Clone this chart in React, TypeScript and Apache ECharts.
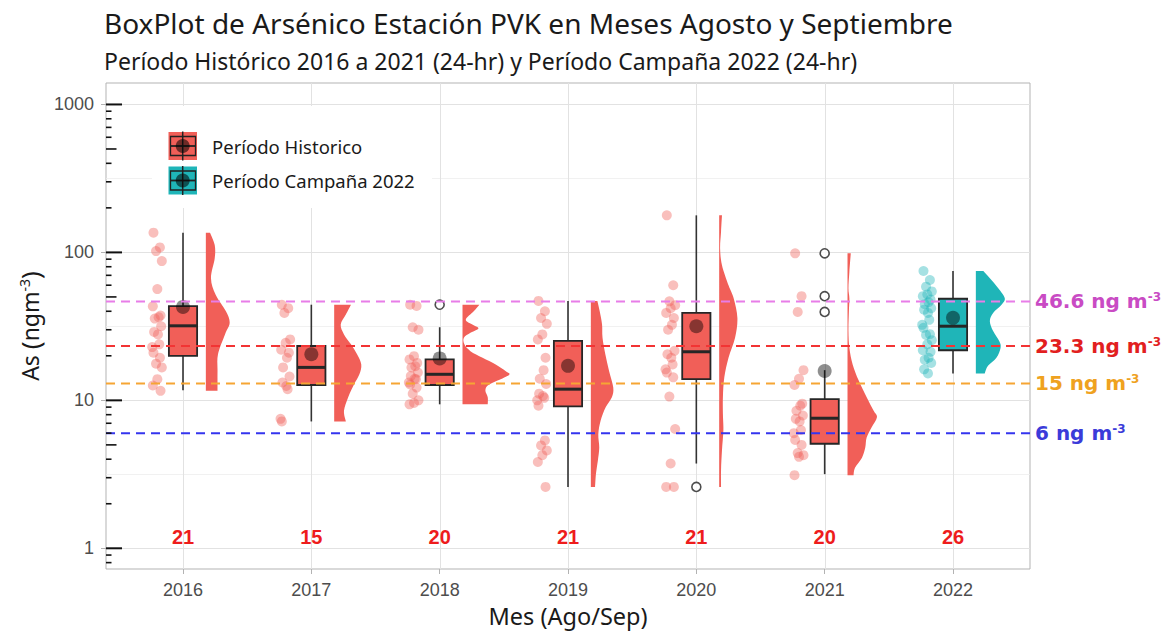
import React, { useEffect, useRef } from "react";
import * as echarts from "echarts";

// ---------- categories ----------
const years = ["2016", "2017", "2018", "2019", "2020", "2021", "2022"];
const sampleSizes = [21, 15, 20, 21, 21, 20, 26];
const periodOfYear = [0, 0, 0, 0, 0, 0, 1]; // 0 = histórico, 1 = campaña
const legendNames = ["Período Historico", "Período Campaña 2022"];

// ---------- observations (ng/m3) ----------
const values2016 = [136, 108, 102, 87.4, 56.5, 43.2, 37.4, 36.5, 35.7, 31.7, 29.0, 27.9, 23.9, 22.9, 21.0, 19.4, 17.7, 16.7, 13.9, 12.6, 11.6];
const values2017 = [44.3, 42.0, 39.0, 25.8, 24.5, 22.0, 21.0, 19.4, 16.7, 14.5, 13.2, 12.5, 11.9, 7.5, 7.2];
const values2018 = [44.3, 43.5, 31.2, 30.0, 19.9, 18.9, 17.9, 17.0, 16.7, 15.4, 14.6, 14.0, 13.9, 13.2, 12.8, 12.2, 11.1, 10.0, 9.6, 9.4];
const values2019 = [47.0, 40.0, 36.0, 32.9, 27.9, 25.8, 19.4, 16.0, 14.0, 12.9, 11.1, 10.7, 10.4, 10.0, 9.2, 5.36, 4.96, 4.59, 4.26, 3.83, 2.6];
const values2020 = [178, 60.0, 46.7, 44.0, 42.0, 39.0, 36.0, 32.4, 30.0, 21.6, 20.5, 19.4, 17.5, 16.2, 15.4, 14.3, 10.6, 6.4, 3.74, 2.6, 2.6];
const values2021 = [98.6, 50.6, 39.6, 16.0, 14.0, 12.7, 9.5, 9.2, 8.5, 7.9, 7.5, 7.2, 6.3, 6.0, 5.4, 5.0, 4.4, 4.26, 4.15, 3.12];
const values2022 = [74.9, 65.1, 58.7, 54.5, 52.0, 50.6, 48.0, 46.0, 44.7, 42.0, 41.0, 39.0, 35.0, 32.4, 30.9, 28.0, 27.7, 25.5, 23.9, 21.8, 21.3, 19.4, 18.8, 17.9, 16.2, 15.2];
const yearValues = [values2016, values2017, values2018, values2019, values2020, values2021, values2022];

// ---------- box statistics ----------
const whiskerLow = [11.7, 7.2, 9.4, 2.6, 3.74, 3.17, 15.2];
const quartile1 = [20.0, 12.7, 12.7, 9.1, 13.9, 5.09, 21.8];
const medians = [31.9, 16.7, 15.0, 11.9, 21.3, 7.57, 31.7];
const quartile3 = [43.4, 23.3, 18.9, 25.2, 39.0, 10.2, 48.6];
const whiskerHigh = [136, 44.3, 31.2, 47.0, 178, 16.0, 74.9];
const means = [42.8, 20.5, 19.2, 17.1, 31.7, 15.8, 36.1];
const outlierYearIndex = [2, 4, 5, 5, 5];
const outlierValues = [44.3, 2.6, 98.6, 50.6, 39.6];

// ---------- half-violin profiles (level in ng/m3, relative density) ----------
const violinLevels2016 = [136, 112, 91.2, 66.9, 51.7, 40.0, 33.4, 27.9, 20.5, 15.8, 11.6];
const violinDensity2016 = [0.09, 0.19, 0.19, 0.11, 0.21, 0.43, 0.51, 0.41, 0.26, 0.25, 0.25];
const violinLevels2017 = [44.3, 38.0, 32.5, 27.9, 23.9, 20.5, 17.5, 15.0, 12.9, 10.5, 8.5, 7.2];
const violinDensity2017 = [0.36, 0.25, 0.14, 0.21, 0.36, 0.49, 0.58, 0.54, 0.43, 0.30, 0.21, 0.25];
const violinLevels2018 = [44.3, 40.0, 35.1, 32.5, 30.6, 28.6, 26.5, 23.9, 21.5, 19.4, 17.5, 15.8, 14.9, 13.6, 12.6, 11.6, 10.5, 9.4];
const violinDensity2018 = [0.36, 0.24, 0.07, 0.21, 0.34, 0.17, 0.03, 0.04, 0.17, 0.43, 0.71, 0.92, 1.0, 0.75, 0.54, 0.49, 0.54, 0.54];
const violinLevels2019 = [47.0, 40.0, 32.5, 26.5, 20.5, 15.8, 12.2, 10.5, 9.0, 7.3, 5.9, 4.8, 3.9, 3.2, 2.6];
const violinDensity2019 = [0.14, 0.19, 0.24, 0.25, 0.31, 0.39, 0.48, 0.45, 0.32, 0.21, 0.16, 0.18, 0.15, 0.11, 0.09];
const violinLevels2020 = [178, 138, 106, 82, 60, 49, 36, 26.5, 19.4, 14.3, 10.5, 8.1, 6.3, 4.6, 3.4, 2.6];
const violinDensity2020 = [0.06, 0.04, 0.02, 0.06, 0.2, 0.31, 0.39, 0.34, 0.2, 0.11, 0.08, 0.08, 0.09, 0.06, 0.04, 0.04];
const violinLevels2021 = [98.6, 74, 57.3, 49, 40, 29.4, 22.7, 17.5, 13.6, 10.5, 8.5, 7.7, 6.6, 5.6, 4.8, 4.1, 3.5, 3.12];
const violinDensity2021 = [0.07, 0.04, 0.02, 0.04, 0.03, 0.02, 0.04, 0.11, 0.24, 0.41, 0.56, 0.63, 0.52, 0.41, 0.38, 0.31, 0.16, 0.13];
const violinLevels2022 = [74.9, 66.9, 57.3, 49, 44.3, 39, 34.3, 29.4, 25.2, 22.7, 19.4, 17.1, 15.2];
const violinDensity2022 = [0.16, 0.3, 0.48, 0.62, 0.55, 0.37, 0.3, 0.37, 0.5, 0.53, 0.44, 0.26, 0.19];
const violinLevels = [violinLevels2016, violinLevels2017, violinLevels2018, violinLevels2019, violinLevels2020, violinLevels2021, violinLevels2022];
const violinDensities = [violinDensity2016, violinDensity2017, violinDensity2018, violinDensity2019, violinDensity2020, violinDensity2021, violinDensity2022];

// ---------- reference lines ----------
const refLineValues = [46.6, 23.3, 13, 6];
const refLineLabels = ["46.6", "23.3", "15", "6"];
const countLabelLevel = 1.2;

// ---------- axis ticks ----------
const yTickValues = [1, 10, 100, 1000];
const yTickLabels = ["1", "10", "100", "1000"];
const minorGridValues = [3.162, 31.62, 316.2];
const logTickValues = [0.8, 0.9, 1, 2, 3, 4, 5, 6, 7, 8, 9, 10, 20, 30, 40, 50, 60, 70, 80, 90, 100, 200, 300, 400, 500, 600, 700, 800, 900, 1000];

// ---------- styling ----------
const FONT_TEXT = "'Noto Sans', 'DejaVu Sans', sans-serif";
const FONT_TICK = "'Liberation Sans', Arial, sans-serif";
const FONT_WIDE = "'DejaVu Sans', sans-serif";
const fillColors = ["#F15F58", "#1FB5B8"];
const refLineColors = ["#E87DE8", "#F23434", "#F6A534", "#3535EE"];
const refLabelColors = ["#C94BC4", "#E21F1F", "#EFA21F", "#3B3BD9"];
const countColor = "#EE1C1C";
const jitterPattern = [-0.03, 0.02, -0.01, 0.035, 0.0, -0.035, 0.025, 0.01, -0.02, 0.03, -0.025, 0.005, 0.015, -0.04];
const pointOffset = -0.2;
const boxWidth = 0.22;
const violinOffset = 0.178;
const violinScale = 0.364;

const lg = (v: number) => Math.log10(v);

function catmullPath(pts: number[][], start: number[], end: number[]): string {
  let d = `M${start[0]},${start[1]} L${pts[0][0]},${pts[0][1]}`;
  for (let i = 0; i < pts.length - 1; i++) {
    const p0 = pts[i - 1] || pts[i];
    const p1 = pts[i];
    const p2 = pts[i + 1];
    const p3 = pts[i + 2] || p2;
    const c1x = p1[0] + (p2[0] - p0[0]) / 6;
    const c1y = p1[1] + (p2[1] - p0[1]) / 6;
    const c2x = p2[0] - (p3[0] - p1[0]) / 6;
    const c2y = p2[1] - (p3[1] - p1[1]) / 6;
    d += ` C${c1x},${c1y} ${c2x},${c2y} ${p2[0]},${p2[1]}`;
  }
  d += ` L${end[0]},${end[1]} Z`;
  return d;
}

function buildOption(): any {
  const pointsHist: number[][] = [];
  const pointsCamp: number[][] = [];
  yearValues.forEach((vals, i) => {
    vals.forEach((v, k) => {
      const p = [i + 1 + pointOffset + jitterPattern[k % jitterPattern.length], lg(v)];
      (periodOfYear[i] ? pointsCamp : pointsHist).push(p);
    });
  });

  const gridData: number[][] = [
    ...yTickValues.map((v) => [0, lg(v)]),
    ...minorGridValues.map((v) => [1, lg(v)]),
    ...years.map((_, i) => [2, i + 1]),
  ];

  const boxData = years.map((_, i) => [
    i + 1, lg(whiskerLow[i]), lg(quartile1[i]), lg(medians[i]), lg(quartile3[i]), lg(whiskerHigh[i]), periodOfYear[i],
  ]);

  return {
    animation: false,
    backgroundColor: "#ffffff",
    title: {
      text: "BoxPlot de Arsénico Estación PVK en Meses Agosto y Septiembre",
      subtext: "Período Histórico 2016 a 2021 (24-hr) y Período Campaña 2022 (24-hr)",
      left: 104,
      top: 9,
      padding: 0,
      itemGap: 12,
      textStyle: { fontFamily: FONT_TEXT, fontSize: 28, lineHeight: 28, fontWeight: "normal", color: "#1a1a1a" },
      subtextStyle: { fontFamily: FONT_TEXT, fontSize: 23, lineHeight: 23, color: "#1a1a1a" },
    },
    grid: { left: 106, right: 141, top: 83, bottom: 59.5, show: true, borderColor: "#b3b3b3", borderWidth: 1, backgroundColor: "transparent" },
    xAxis: {
      type: "value",
      min: 0.4,
      max: 7.6,
      axisLine: { show: false, onZero: false },
      axisTick: { show: true, customValues: years.map((_, i) => i + 1), length: 5, lineStyle: { color: "#b3b3b3" } },
      axisLabel: {
        customValues: years.map((_, i) => i + 1),
        formatter: (v: number) => years[Math.round(v) - 1] || "",
        margin: 12,
        fontSize: 18,
        fontFamily: FONT_TICK,
        color: "#4d4d4d",
      },
      splitLine: { show: false },
      name: "Mes (Ago/Sep)",
      nameLocation: "middle",
      nameGap: 35,
      nameTextStyle: { fontFamily: FONT_TEXT, fontSize: 23.5, color: "#1a1a1a" },
    },
    yAxis: {
      type: "value",
      min: -0.14,
      max: 3.145,
      axisLine: { show: false, onZero: false },
      axisTick: { show: true, customValues: yTickValues.map(lg), length: 5, lineStyle: { color: "#b3b3b3" } },
      axisLabel: {
        customValues: yTickValues.map(lg),
        formatter: (v: number) => yTickLabels[Math.round(v)] || "",
        margin: 12,
        fontSize: 18,
        fontFamily: FONT_TICK,
        color: "#4d4d4d",
      },
      splitLine: { show: false },
      name: "{a|As }{p|(}{a|ngm}{s|-3}{p|)}",
      nameLocation: "middle",
      nameGap: 62,
      nameRotate: 90,
      nameTextStyle: {
        rich: {
          a: { fontFamily: FONT_TEXT, fontSize: 23, color: "#1a1a1a" },
          p: { fontFamily: FONT_TEXT, fontSize: 26, color: "#1a1a1a" },
          s: { fontFamily: FONT_TEXT, fontSize: 14, color: "#1a1a1a", verticalAlign: "top" },
        },
      },
    },
    series: [
      {
        type: "custom",
        name: "grid",
        z: 1,
        silent: true,
        data: gridData,
        renderItem: (params: any, api: any) => {
          const cs = params.coordSys;
          const kind = api.value(0);
          const val = api.value(1);
          if (kind === 2) {
            const x = Math.round(api.coord([val, 1])[0]) + 0.5;
            return { type: "line", shape: { x1: x, y1: cs.y, x2: x, y2: cs.y + cs.height }, style: { stroke: "#e2e2e2", lineWidth: 1 } };
          }
          const y = Math.round(api.coord([1, val])[1]) + 0.5;
          return {
            type: "line",
            shape: { x1: cs.x, y1: y, x2: cs.x + cs.width, y2: y },
            style: { stroke: kind === 0 ? "#e2e2e2" : "#eeeeee", lineWidth: kind === 0 ? 1 : 0.8 },
          };
        },
      },
      {
        type: "custom",
        name: "violin",
        z: 2,
        silent: true,
        data: years.map((_, i) => [i + 1, lg(violinLevels[i][0]), periodOfYear[i]]),
        renderItem: (params: any, api: any) => {
          const i = params.dataIndex;
          const x0 = api.value(0) + violinOffset;
          const levels = violinLevels[i];
          const dens = violinDensities[i];
          const right = levels.map((lv, k) => api.coord([x0 + dens[k] * violinScale, lg(lv)]));
          const top = api.coord([x0, lg(levels[0])]);
          const bottom = api.coord([x0, lg(levels[levels.length - 1])]);
          return {
            type: "path",
            shape: { pathData: catmullPath(right, top, bottom) },
            style: { fill: fillColors[api.value(2)] },
          };
        },
      },
      {
        type: "scatter",
        name: legendNames[0],
        z: 3,
        silent: true,
        symbolSize: 10,
        itemStyle: { color: fillColors[0], opacity: 0.4 },
        data: pointsHist,
      },
      {
        type: "scatter",
        name: legendNames[1],
        z: 3,
        silent: true,
        symbolSize: 10,
        itemStyle: { color: fillColors[1], opacity: 0.4 },
        data: pointsCamp,
      },
      {
        type: "custom",
        name: "box",
        z: 4,
        silent: true,
        data: boxData,
        renderItem: (params: any, api: any) => {
          const x = api.value(0);
          const low = api.coord([x, api.value(1)]);
          const cx = low[0];
          const yLow = low[1];
          const yQ1 = api.coord([x, api.value(2)])[1];
          const yMed = api.coord([x, api.value(3)])[1];
          const yQ3 = api.coord([x, api.value(4)])[1];
          const yHigh = api.coord([x, api.value(5)])[1];
          const half = api.size([boxWidth, 0])[0] / 2;
          const fill = fillColors[api.value(6)];
          return {
            type: "group",
            children: [
              { type: "line", shape: { x1: cx, y1: yHigh, x2: cx, y2: yQ3 }, style: { stroke: "#333333", lineWidth: 1.6 } },
              { type: "line", shape: { x1: cx, y1: yQ1, x2: cx, y2: yLow }, style: { stroke: "#333333", lineWidth: 1.6 } },
              { type: "rect", shape: { x: cx - half, y: yQ3, width: half * 2, height: yQ1 - yQ3 }, style: { fill, stroke: "#262626", lineWidth: 1.8 } },
              { type: "line", shape: { x1: cx - half, y1: yMed, x2: cx + half, y2: yMed }, style: { stroke: "#262626", lineWidth: 3 } },
            ],
          };
        },
      },
      {
        type: "scatter",
        name: "outliers",
        z: 5,
        silent: true,
        symbolSize: 9,
        itemStyle: { color: "#ffffff", borderColor: "#222222", borderWidth: 1.6 },
        data: outlierValues.map((v, k) => [outlierYearIndex[k] + 1, lg(v)]),
      },
      {
        type: "scatter",
        name: "means",
        z: 6,
        silent: true,
        symbolSize: 14,
        itemStyle: { color: "rgba(0,0,0,0.55)" },
        data: means.map((v, i) => [i + 1, lg(v)]),
      },
      {
        type: "custom",
        name: "reference",
        z: 7,
        silent: true,
        data: refLineValues.map((v, i) => [i, lg(v)]),
        renderItem: (params: any, api: any) => {
          const i = params.dataIndex;
          const cs = params.coordSys;
          const y = api.coord([1, api.value(1)])[1];
          const col = refLabelColors[i];
          return {
            type: "group",
            children: [
              {
                type: "line",
                shape: { x1: cs.x, y1: y, x2: cs.x + cs.width, y2: y },
                style: { stroke: refLineColors[i], lineWidth: 2, lineDash: [9, 6] },
              },
              {
                type: "text",
                x: cs.x + cs.width + 5,
                y: y,
                style: {
                  text: `{v|${refLineLabels[i]} ng m}{s|-3}`,
                  align: "left",
                  verticalAlign: "middle",
                  rich: {
                    v: { fontFamily: FONT_WIDE, fontSize: 20, fontWeight: "bold", fill: col },
                    s: { fontFamily: FONT_WIDE, fontSize: 12, fontWeight: "bold", fill: col, verticalAlign: "top" },
                  },
                },
              },
            ],
          };
        },
      },
      {
        type: "custom",
        name: "counts",
        z: 7,
        silent: true,
        data: sampleSizes.map((n, i) => [i + 1, lg(countLabelLevel), n]),
        renderItem: (params: any, api: any) => {
          const p = api.coord([api.value(0), api.value(1)]);
          return {
            type: "text",
            x: p[0],
            y: p[1],
            style: {
              text: String(api.value(2)),
              align: "center",
              verticalAlign: "middle",
              fontFamily: FONT_TICK,
              fontSize: 20,
              fontWeight: "bold",
              fill: countColor,
            },
          };
        },
      },
      {
        type: "custom",
        name: "logticks",
        z: 8,
        silent: true,
        data: logTickValues.map((v) => [0.4, lg(v), v]),
        renderItem: (params: any, api: any) => {
          const cs = params.coordSys;
          const v = api.value(2);
          const mant = v / Math.pow(10, Math.floor(Math.log10(v) + 1e-9));
          const isMajor = Math.abs(mant - 1) < 1e-6;
          const isMid = Math.abs(mant - 5) < 1e-6;
          const len = isMajor ? 16 : isMid ? 10.5 : 5.5;
          const y = api.coord([1, api.value(1)])[1];
          return {
            type: "line",
            shape: { x1: cs.x, y1: y, x2: cs.x + len, y2: y },
            style: { stroke: "#111111", lineWidth: isMajor ? 2 : 1.6 },
          };
        },
      },
    ],
    graphic: [
      { type: "rect", z: 50, shape: { x: 152, y: 106, width: 280, height: 102 }, style: { fill: "#ffffff" } },
      ...[0, 1].flatMap((g) => {
        const cy = 146 + g * 34.5;
        return [
          { type: "rect", z: 51, shape: { x: 168.5, y: cy - 14, width: 28.5, height: 28 }, style: { fill: fillColors[g] } },
          { type: "rect", z: 52, shape: { x: 170.5, y: cy - 9.5, width: 25, height: 19 }, style: { fill: "none", stroke: "#222222", lineWidth: 1.3 } },
          { type: "line", z: 52, shape: { x1: 170.5, y1: cy, x2: 195.5, y2: cy }, style: { stroke: "#222222", lineWidth: 1.8 } },
          { type: "line", z: 52, shape: { x1: 182.7, y1: cy - 14.5, x2: 182.7, y2: cy + 14.5 }, style: { stroke: "#222222", lineWidth: 1.5 } },
          { type: "circle", z: 53, shape: { cx: 182.7, cy, r: 7 }, style: { fill: "rgba(0,0,0,0.55)" } },
          {
            type: "text",
            z: 53,
            x: 212,
            y: cy,
            style: { text: legendNames[g], fontFamily: FONT_TEXT, fontSize: 18.5, fill: "#1a1a1a", align: "left", verticalAlign: "middle" },
          },
        ];
      }),
    ],
  };
}

export default function App() {
  const ref = useRef<HTMLDivElement>(null);
  useEffect(() => {
    document.body.style.margin = "0";
    const chart = echarts.init(ref.current as HTMLDivElement, null, { renderer: "svg" });
    chart.setOption(buildOption());
    return () => chart.dispose();
  }, []);
  return <div ref={ref} style={{ width: 1171, height: 633 }} />;
}
